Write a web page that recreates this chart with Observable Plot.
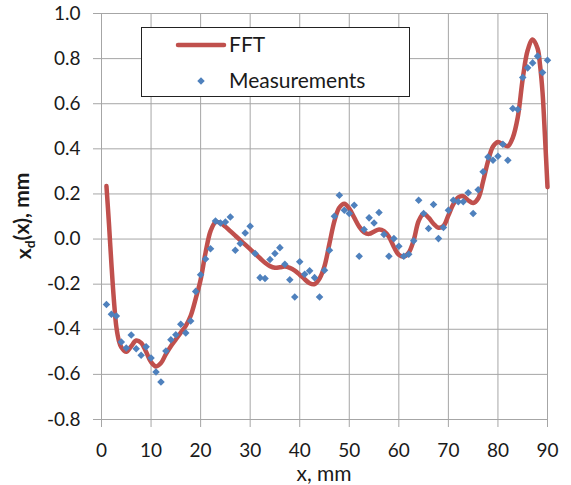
<!DOCTYPE html>
<html>
<head>
<meta charset="utf-8">
<script src="https://cdn.jsdelivr.net/npm/d3@7"></script>
<script src="https://cdn.jsdelivr.net/npm/@observablehq/plot@0.6"></script>
<style>
  html, body { margin: 0; padding: 0; background: #fff; }
  #chart svg { display: block; }
</style>
</head>
<body>
<div id="chart"></div>
<script>
// Measured displacement, one reading per millimetre
const measX = d3.range(1, 91);
const measY = [
  -0.290, -0.333, -0.341, -0.456, -0.483, -0.425, -0.486, -0.515, -0.478, -0.527,
  -0.589, -0.634, -0.496, -0.446, -0.424, -0.378, -0.416, -0.363, -0.232, -0.158,
  -0.088, -0.043,  0.080,  0.071,  0.076,  0.098, -0.050, -0.020,  0.027,  0.057,
  -0.064, -0.171, -0.175, -0.091, -0.064, -0.038, -0.112, -0.180, -0.257, -0.101,
  -0.156, -0.141, -0.171, -0.257, -0.138, -0.050,  0.101,  0.194,  0.128,  0.113,
   0.150, -0.076,  0.042,  0.094,  0.071,  0.118,  0.020, -0.076,  0.002, -0.032,
  -0.076, -0.067, -0.008,  0.172,  0.113,  0.047,  0.153,  0.002,  0.051,  0.128,
   0.172,  0.165,  0.165,  0.205,  0.113,  0.219,  0.298,  0.364,  0.349,  0.367,
   0.420,  0.349,  0.579,  0.574,  0.716,  0.759,  0.781,  0.811,  0.738,  0.793
];

// FFT reconstruction of the profile
const fftX = [1, 1.5, 2, 2.5, 3, 3.5, 4, 5, 6, 7, 8, 9, 10, 11, 12, 13, 14, 15, 16, 17,
  18, 19, 20, 21, 22, 23, 24, 25, 26, 27, 28, 29, 30, 31, 32, 33, 34, 35, 36, 37,
  38, 39, 40, 41, 42, 43, 44, 45, 46, 47, 48, 49, 50, 51, 52, 53, 54, 55, 56, 57,
  58, 59, 60, 61, 62, 63, 64, 65, 66, 67, 68, 69, 70, 71, 72, 73, 74, 75, 76, 77,
  78, 79, 80, 81, 82, 83, 84, 85, 86, 87, 88, 88.5, 89, 89.5, 90];
const fftY = [0.235, 0.07, -0.11, -0.27, -0.39, -0.45, -0.48, -0.50, -0.475, -0.45,
  -0.46, -0.50, -0.545, -0.565, -0.55, -0.51, -0.475, -0.445, -0.415, -0.385,
  -0.34, -0.265, -0.18, -0.06, 0.035, 0.075, 0.072, 0.055, 0.035, 0.015,
  -0.005, -0.025, -0.045, -0.065, -0.085, -0.105, -0.12, -0.127, -0.125, -0.122,
  -0.128, -0.14, -0.158, -0.178, -0.196, -0.2, -0.175, -0.12, -0.02, 0.08,
  0.14, 0.157, 0.135, 0.095, 0.055, 0.03, 0.023, 0.033, 0.042, 0.035,
  0.01, -0.035, -0.07, -0.078, -0.06, -0.005, 0.08, 0.112, 0.095, 0.068,
  0.05, 0.058, 0.105, 0.155, 0.185, 0.19, 0.172, 0.16, 0.18, 0.255,
  0.345, 0.41, 0.43, 0.42, 0.412, 0.45, 0.54, 0.71, 0.837, 0.885,
  0.845, 0.77, 0.65, 0.45, 0.23];

const xTicks = [0, 10, 20, 30, 40, 50, 60, 70, 80, 90];
const yTicks = [-0.8, -0.6, -0.4, -0.2, 0.0, 0.2, 0.4, 0.6, 0.8, 1.0];

const seriesNames = ["FFT", "Measurements"];
const lineColor = "#C0504D";
const dotColor = "#4F81BD";
const gridColor = "#a6a6a6";
const textColor = "#1a1a1a";

const measurements = measX.map((x, i) => ({x, y: measY[i]}));
const fft = fftX.map((x, i) => ({x, y: fftY[i]}));

const plot = Plot.plot({
  width: 571,
  height: 485,
  marginLeft: 101,
  marginRight: 24,
  marginTop: 13,
  marginBottom: 66,
  style: {fontFamily: "Lato, sans-serif", fontSize: "19px", color: textColor, background: "#fff"},
  x: {domain: [0, 90]},
  y: {domain: [-0.8, 1.0]},
  marks: [
    Plot.gridX(xTicks, {stroke: gridColor, strokeOpacity: 1}),
    Plot.gridY(yTicks, {stroke: gridColor, strokeOpacity: 1}),
    Plot.axisX(xTicks, {tickSize: 8, tickPadding: 16, stroke: gridColor, fill: textColor, label: null}),
    Plot.axisY(yTicks, {tickSize: 8, tickPadding: 13, stroke: gridColor, fill: textColor, label: null,
      tickFormat: d => d.toFixed(1)}),
    Plot.line(fft, {x: "x", y: "y", stroke: lineColor, strokeWidth: 4.5, curve: "catmull-rom"}),
    Plot.dot(measurements, {x: "x", y: "y", symbol: "diamond2", r: 3.4, fill: dotColor, stroke: "none"})
  ]
});

document.getElementById("chart").append(plot);

const svg = d3.select(plot);

// x-axis title
svg.append("text")
  .attr("x", 324).attr("y", 481)
  .attr("text-anchor", "middle")
  .style("font", "21px Lato, sans-serif")
  .attr("fill", textColor)
  .text("x, mm");

// y-axis title with subscript
const yTitle = svg.append("text")
  .attr("transform", "translate(31,216) rotate(-90)")
  .attr("text-anchor", "middle")
  .style("font", "bold 21px Lato, sans-serif")
  .attr("fill", textColor);
yTitle.append("tspan").text("x");
yTitle.append("tspan").attr("dy", "0.25em").style("font-size", "14px").text("d");
yTitle.append("tspan").attr("dy", "-0.25em").text("(x), mm");

// legend
const legend = svg.append("g");
legend.append("rect")
  .attr("x", 141.5).attr("y", 27.5).attr("width", 268).attr("height", 69)
  .attr("fill", "#fff").attr("stroke", "#222").attr("stroke-width", 1);
legend.append("line")
  .attr("x1", 178).attr("x2", 224).attr("y1", 45).attr("y2", 45)
  .attr("stroke", lineColor).attr("stroke-width", 4.5).attr("stroke-linecap", "round");
legend.append("path")
  .attr("d", d3.symbol(d3.symbolDiamond2, 36)())
  .attr("transform", "translate(201,81)")
  .attr("fill", dotColor);
legend.selectAll("text.lg").data(seriesNames).join("text")
  .attr("class", "lg")
  .attr("x", 229).attr("y", (d, i) => i === 0 ? 52 : 88)
  .attr("text-anchor", "start")
  .style("font", "21px Lato, sans-serif")
  .attr("fill", textColor)
  .text(d => d);
</script>
</body>
</html>
